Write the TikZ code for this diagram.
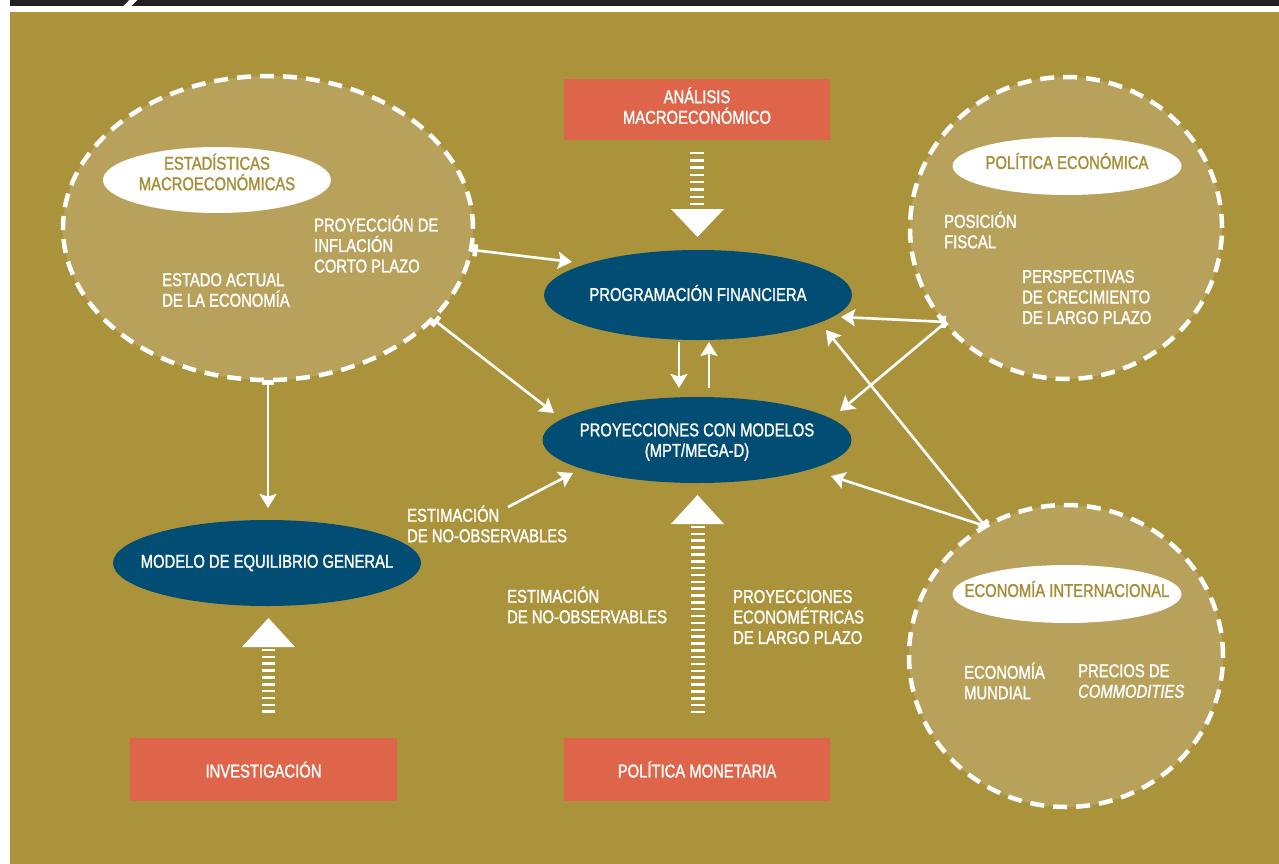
\documentclass[tikz,border=0pt]{standalone}
\usepackage{fontspec}
\setmainfont{Liberation Sans}[FakeStretch=0.8,FakeBold=1.4]
\usetikzlibrary{shapes.geometric,arrows.meta}
\definecolor{bggold}{HTML}{AB933C}
\definecolor{lightgold}{HTML}{B8A15B}
\definecolor{boxorange}{HTML}{DE644A}
\definecolor{deepblue}{HTML}{014D74}
\definecolor{goldtext}{HTML}{A68D36}
\definecolor{barblack}{HTML}{231F20}
\tikzset{
  txt/.style={font=\fontsize{18.5}{20.5}\selectfont, text=white, inner sep=0pt},
  gtxt/.style={font=\fontsize{18.5}{20.5}\selectfont, text=goldtext, inner sep=0pt, align=center},
  ltxt/.style={txt, align=left, anchor=west},
  ctxt/.style={txt, align=center},
  cloud/.style={ellipse, fill=lightgold, draw=white, line width=4.5pt, dash pattern=on 14pt off 9pt, inner sep=0pt},
  whiteell/.style={ellipse, fill=white, inner sep=0pt},
  blueell/.style={ellipse, fill=deepblue, inner sep=0pt},
  orbox/.style={rectangle, fill=boxorange, inner sep=0pt},
  conn/.style={draw=white, line width=2.6pt, -{Stealth[length=14pt,width=17pt,inset=2.5pt]}},
  tconn/.style={draw=white, line width=2.6pt, {Bar[width=12pt,line width=4.5pt]}-{Stealth[length=14pt,width=17pt,inset=2.5pt]}},
  stripe/.style={draw=white, line width=2.5pt},
  bigtip/.style={fill=white},
}
\begin{document}
\begin{tikzpicture}[x=1pt,y=-1pt]
\useasboundingbox (0,0) rectangle (1279,864);
% top bar and background
\fill[barblack] (10,0) rectangle (1279,6);
\fill[white] (123,6.5) -- (131,6.5) -- (138,-0.5) -- (130,-0.5) -- cycle;
\fill[bggold] (10,12) rectangle (1279,864);

% dashed clouds
\node[cloud, minimum width=410pt, minimum height=304pt] (stat) at (268,228) {};
\node[cloud, minimum width=312pt, minimum height=302pt] (pol) at (1066,228) {};
\node[cloud, minimum width=314pt, minimum height=302pt] (intl) at (1066,656) {};

% white title ellipses
\node[whiteell, minimum width=228pt, minimum height=66pt,
  label={[gtxt,yshift=8pt]center:ESTADÍSTICAS\\MACROECONÓMICAS}] (statT) at (217,180) {};
\node[whiteell, minimum width=229pt, minimum height=58pt,
  label={[gtxt,yshift=5pt]center:POLÍTICA ECONÓMICA}] (polT) at (1067,166) {};
\node[whiteell, minimum width=229pt, minimum height=58pt,
  label={[gtxt,yshift=5pt]center:ECONOMÍA INTERNACIONAL}] (intlT) at (1067,594) {};

% texts inside clouds
\node[ltxt] (proyinf) at (314,244) {PROYECCIÓN DE\\INFLACIÓN\\CORTO PLAZO};
\node[ltxt] (estado) at (162,290) {ESTADO ACTUAL\\DE LA ECONOMÍA};
\node[ltxt] (fiscal) at (944,230) {POSICIÓN\\FISCAL};
\node[ltxt] (persp) at (1022,297) {PERSPECTIVAS\\DE CRECIMIENTO\\DE LARGO PLAZO};
\node[ltxt] (mundial) at (964,681) {ECONOMÍA\\MUNDIAL};
\node[ltxt] (precios) at (1078,681) {PRECIOS DE\\\itshape COMMODITIES};

% orange boxes
\node[orbox, minimum width=266pt, minimum height=61pt,
  label={[ctxt,yshift=4pt]center:ANÁLISIS\\MACROECONÓMICO}] (anal) at (697,109.5) {};
\node[orbox, minimum width=267pt, minimum height=63pt,
  label={[ctxt]center:INVESTIGACIÓN}] (invest) at (263.5,769.5) {};
\node[orbox, minimum width=266pt, minimum height=63pt,
  label={[ctxt]center:POLÍTICA MONETARIA}] (polmon) at (697,769.5) {};

% blue ellipses
\node[blueell, minimum width=308pt, minimum height=90pt,
  label={[ctxt,yshift=2pt]center:PROGRAMACIÓN FINANCIERA}] (prog) at (698,295) {};
\node[blueell, minimum width=309pt, minimum height=86pt,
  label={[ctxt,yshift=-2pt]center:PROYECCIONES CON MODELOS\\(MPT/MEGA-D)}] (proy) at (697,440) {};
\node[blueell, minimum width=308pt, minimum height=86pt,
  label={[ctxt]center:MODELO DE EQUILIBRIO GENERAL}] (model) at (267,563) {};

% free labels
\node[ltxt] (estim1) at (407,524) {ESTIMACIÓN\\DE NO-OBSERVABLES};
\node[ltxt] (estim2) at (507,605) {ESTIMACIÓN\\DE NO-OBSERVABLES};
\node[ltxt] (econom) at (733,617) {PROYECCIONES\\ECONOMÉTRICAS\\DE LARGO PLAZO};

% connector end points
\coordinate (s1) at (473,250); \coordinate (e1) at (572,262);
\coordinate (s2) at (434,320); \coordinate (e2) at (554,413);
\coordinate (s3) at (268,380); \coordinate (e3) at (268,508);
\coordinate (s4) at (508,507); \coordinate (e4) at (573,473);
\coordinate (s5) at (946,322); \coordinate (e5) at (841,317);
\coordinate (e6) at (840,411);
\coordinate (s7) at (985,526); \coordinate (e7) at (826,330);
\coordinate (e8) at (831,476);
\coordinate (d1) at (679,342); \coordinate (d2) at (679,388);
\coordinate (u1) at (709,388); \coordinate (u2) at (709,342);

\draw[tconn] (s1) -- (e1);
\draw[tconn] (s2) -- (e2);
\draw[tconn] (s3) -- (e3);
\draw[conn] (s4) -- (e4);
\draw[tconn] (s5) -- (e5);
\draw[conn] (s5) -- (e6);
\draw[tconn] (s7) -- (e7);
\draw[conn] (s7) -- (e8);
\draw[conn] (d1) -- (d2);
\draw[conn] (u1) -- (u2);

% striped arrows
\foreach \i in {0,...,7} \draw[stripe] (690,153+7.3*\i) -- (704,153+7.3*\i);
\fill[bigtip] (671,209) -- (724,209) -- (697.5,237) -- cycle;
\foreach \i in {0,...,27} \draw[stripe] (690.5,527+6.85*\i) -- (704.5,527+6.85*\i);
\fill[bigtip] (671,524) -- (724,524) -- (697.5,495) -- cycle;
\foreach \i in {0,...,9} \draw[stripe] (262,650+6.85*\i) -- (275,650+6.85*\i);
\fill[bigtip] (242,647) -- (295,647) -- (268.5,618) -- cycle;
\end{tikzpicture}
\end{document}
